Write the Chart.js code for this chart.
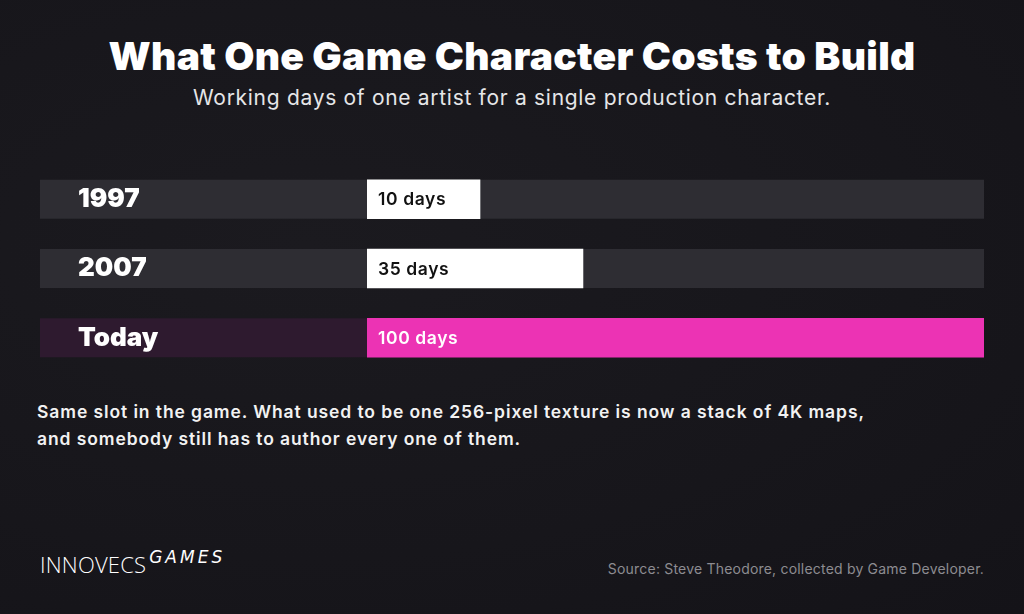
<!DOCTYPE html>
<html>

<head>
    <title>What One Game Character Costs to Build</title>
    <script src="https://cdn.jsdelivr.net/npm/chart.js"></script>
    <style>
        html, body {
            margin: 0;
            padding: 0;
            width: 1024px;
            height: 614px;
            overflow: hidden;
            background: #17161b;
            font-family: Inter, "Noto Sans", sans-serif;
            color: #ffffff;
        }

        .page {
            position: relative;
            width: 1024px;
            height: 614px;
            background: radial-gradient(ellipse at 30% 40%, #1b1a1f 0%, #17161b 60%, #141318 100%);
        }

        #title {
            position: absolute;
            top: 32px;
            left: 0;
            width: 1024px;
            text-align: center;
            font-size: 39px;
            font-weight: 900;
            letter-spacing: 0.3px;
        }

        #subtitle {
            position: absolute;
            top: 85px;
            left: 0;
            width: 1024px;
            text-align: center;
            font-size: 21px;
            font-weight: 400;
            letter-spacing: 0.7px;
            color: #e6e6e8;
        }

        /* chart box: from the left edge of the tracks to their right edge,
           taller than the tracks because the y ticks reserve room above and below */
        .chart-box {
            position: absolute;
            left: 40px;
            top: 146px;
            width: 944px;
            height: 245px;
        }

        #note {
            position: absolute;
            top: 398px;
            left: 37px;
            width: 960px;
            font-size: 17.5px;
            font-weight: 600;
            letter-spacing: 0.9px;
            line-height: 27px;
            color: #f2f2f2;
        }

        #logo {
            position: absolute;
            top: 549px;
            left: 40px;
            font-size: 22px;
            font-weight: 300;
            font-family: "Open Sans", sans-serif;
            letter-spacing: 0.2px;
        }

        #logo span {
            position: relative;
            top: -10px;
            left: 3px;
            font-size: 17px;
            font-style: italic;
            font-family: "DejaVu Sans", sans-serif;
            font-weight: 300;
            letter-spacing: 3px;
        }

        #source {
            position: absolute;
            top: 560px;
            right: 40px;
            font-size: 14px;
            letter-spacing: 0.2px;
            color: #8d8c91;
        }
    </style>
</head>

<body>
    <div class="page">
        <div id="title">What One Game Character Costs to Build</div>
        <div id="subtitle">Working days of one artist for a single production character.</div>

        <div class="chart-box">
            <canvas id="costChart"></canvas>
        </div>

        <div id="note">Same slot in the game. What used to be one 256-pixel texture is now a stack of 4K maps,<br>and somebody still has to author every one of them.</div>

        <div id="logo">INNOVECS<span>GAMES</span></div>
        <div id="source">Source: Steve Theodore, collected by Game Developer.</div>
    </div>

    <script>
        // data
        const periods = ["1997", "2007", "Today"];
        const workingDays = [10, 35, 100];
        const valueSuffix = " days";

        // colours per row
        const barColors = ["#ffffff", "#ffffff", "#ec33b4"];
        const trackColors = ["#2e2d33", "#2e2d33", "#2e1a2f"];
        const valueTextColors = ["#111111", "#111111", "#ffffff"];

        // grey (or purple) track behind every bar, across the label area too.
        // drawn in beforeDraw so the tick labels end up on top of it
        const trackPlugin = {
            id: "tracks",
            beforeDraw(chart) {
                const ctx = chart.ctx;
                const meta = chart.getDatasetMeta(0);
                ctx.save();
                meta.data.forEach((bar, i) => {
                    const h = bar.height;
                    ctx.fillStyle = trackColors[i];
                    ctx.fillRect(0, bar.y - h / 2, chart.chartArea.right, h);
                });
                ctx.restore();
            }
        };

        // value labels inside the bars
        const valueLabelPlugin = {
            id: "valueLabels",
            afterDatasetsDraw(chart) {
                const ctx = chart.ctx;
                const meta = chart.getDatasetMeta(0);
                ctx.save();
                ctx.font = "600 17.5px Inter, sans-serif";
                ctx.letterSpacing = "0.6px";
                ctx.textBaseline = "middle";
                ctx.textAlign = "left";
                meta.data.forEach((bar, i) => {
                    ctx.fillStyle = valueTextColors[i];
                    ctx.fillText(workingDays[i] + valueSuffix, bar.base + 11, bar.y + 1);
                });
                ctx.restore();
            }
        };

        const ctx = document.getElementById("costChart").getContext("2d");

        new Chart(ctx, {
            type: "bar",
            data: {
                labels: periods,
                datasets: [{
                    data: workingDays,
                    backgroundColor: barColors,
                    borderWidth: 0,
                    barThickness: 39,
                    minBarLength: 113
                }]
            },
            options: {
                indexAxis: "y",
                responsive: true,
                maintainAspectRatio: false,
                animation: false,
                layout: { padding: { left: 38, right: 0, top: 0, bottom: 0 } },
                plugins: {
                    legend: { display: false },
                    tooltip: { enabled: false }
                },
                scales: {
                    x: {
                        display: false,
                        min: 0,
                        max: 100
                    },
                    y: {
                        grid: { display: false },
                        border: { display: false },
                        ticks: {
                            crossAlign: "far",
                            color: "#ffffff",
                            font: { family: "Inter", size: 26, weight: "900" }
                        },
                        // label column ends where the bars begin (x = 367 on the page)
                        afterFit(scale) {
                            scale.width = 289;
                        }
                    }
                }
            },
            plugins: [trackPlugin, valueLabelPlugin]
        });
    </script>
</body>

</html>
